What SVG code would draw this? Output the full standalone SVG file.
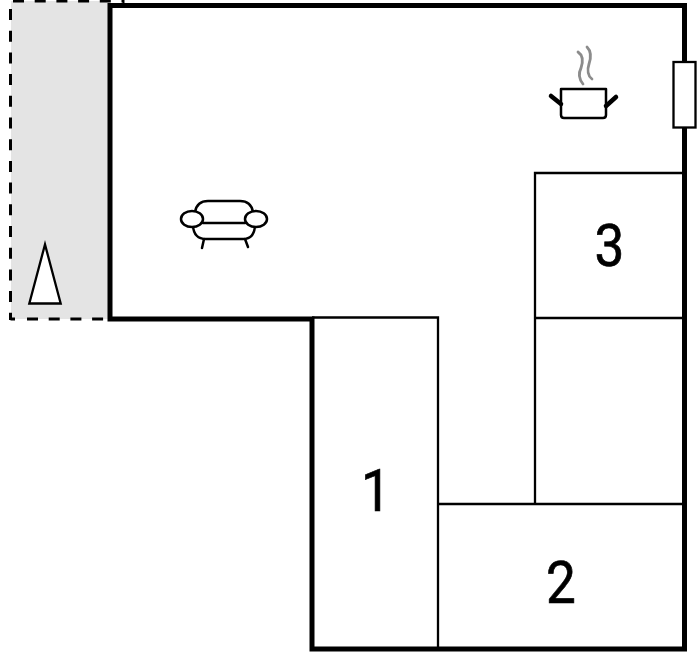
<svg xmlns="http://www.w3.org/2000/svg" width="700" height="652" viewBox="0 0 700 652">
<style>
.thin{fill:none;stroke:#000;stroke-width:2.300}
.wall{fill:none;stroke:#000;stroke-width:5;stroke-linejoin:miter}
.dash{fill:none;stroke:#000;stroke-width:3;stroke-dasharray:11 10.700}
.icon{fill:#fff;stroke:#000;stroke-width:2.500;stroke-linecap:round;stroke-linejoin:round}
.num{font-family:Roboto,"Liberation Sans",Arial,sans-serif;font-size:59px;fill:#000;stroke:#000;stroke-width:.7;text-anchor:middle}
</style>
<rect width="700" height="652" fill="#fff"/>
<g id="terrace">
<rect x="11" y="1" width="98" height="318" fill="#e4e4e4"/>
<path d="M13 1H124M10.500 -12.700V320M27 319H109" class="dash"/>
<path d="M10.500 319H15" fill="none" stroke="#000" stroke-width="3"/>
<path d="M123.500 0V4" fill="none" stroke="#000" stroke-width="2"/>
<path d="M29.300 303.500L45 244.500L60.700 303.500Z" fill="#fff" stroke="#000" stroke-width="2.300" stroke-linejoin="miter"/>
</g>
<g id="walls">
<path d="M110 5.500H684.500V649H312V319H110Z" class="wall"/>
</g>
<g id="room-1">
<path d="M312 317.500H438V649" class="thin"/>
<text transform="translate(376 511) scale(.9 1)" class="num">1</text>
</g>
<g id="room-2">
<path d="M438 504H684" class="thin"/>
<text transform="translate(561 603) scale(.9 1)" class="num">2</text>
</g>
<g id="room-3">
<path d="M684 173H535V504M535 318H684" class="thin"/>
<text transform="translate(609.500 266) scale(.9 1)" class="num">3</text>
</g>
<g id="window">
<rect x="673.500" y="62" width="22" height="65.500" fill="#fff" stroke="#000" stroke-width="2.300"/>
</g>
<g id="pot">
<path d="M578 52C584 56 583 62 581 68C578 74 579 79 583 84M587 47C592 52 591 58 589 64C587 70 588 76 592 79" fill="none" stroke="#8c8c8c" stroke-width="2.800" stroke-linecap="round"/>
<path d="M561 89H606V115Q606 118 603 118H564Q561 118 561 115Z" class="icon"/>
<path d="M551 96L561 104M616 97L606 106" fill="none" stroke="#000" stroke-width="4.500" stroke-linecap="round"/>
</g>
<g id="sofa">
<path d="M195 212Q197 201 208 201H240Q251 201 253 212" class="icon" fill="none"/>
<path d="M193 226Q194 239 206 239H243Q254 239 255 226" class="icon"/>
<path d="M203 223H245M204 239L202 248M245 239L248 247" class="icon"/>
<ellipse cx="192" cy="219" rx="11" ry="8" class="icon"/>
<ellipse cx="256" cy="219" rx="11" ry="8" class="icon"/>
</g>
</svg>
